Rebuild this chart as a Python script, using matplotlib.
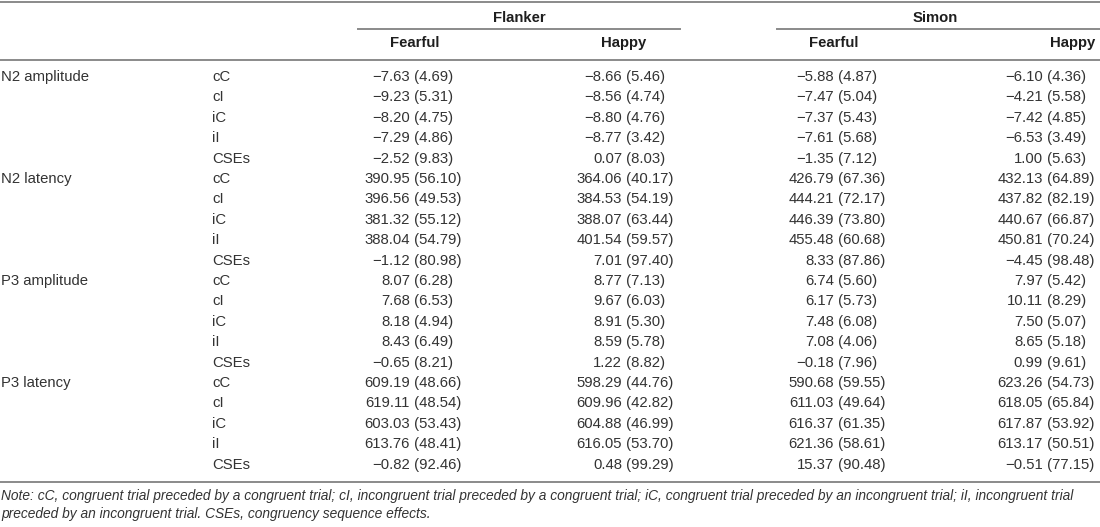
import matplotlib
matplotlib.use("Agg")
from matplotlib import pyplot as plt

# table contents
measures = ["N2 amplitude", "N2 latency", "P3 amplitude", "P3 latency"]
conditions = ["cC", "cI", "iC", "iI", "CSEs"]
tasks = ["Flanker", "Simon"]
emotions = ["Fearful", "Happy"]

flanker_fearful_mean = [-7.63, -9.23, -8.20, -7.29, -2.52,
                        390.95, 396.56, 381.32, 388.04, -1.12,
                        8.07, 7.68, 8.18, 8.43, -0.65,
                        609.19, 619.11, 603.03, 613.76, -0.82]
flanker_fearful_sd = [4.69, 5.31, 4.75, 4.86, 9.83,
                      56.10, 49.53, 55.12, 54.79, 80.98,
                      6.28, 6.53, 4.94, 6.49, 8.21,
                      48.66, 48.54, 53.43, 48.41, 92.46]
flanker_happy_mean = [-8.66, -8.56, -8.80, -8.77, 0.07,
                      364.06, 384.53, 388.07, 401.54, 7.01,
                      8.77, 9.67, 8.91, 8.59, 1.22,
                      598.29, 609.96, 604.88, 616.05, 0.48]
flanker_happy_sd = [5.46, 4.74, 4.76, 3.42, 8.03,
                    40.17, 54.19, 63.44, 59.57, 97.40,
                    7.13, 6.03, 5.30, 5.78, 8.82,
                    44.76, 42.82, 46.99, 53.70, 99.29]
simon_fearful_mean = [-5.88, -7.47, -7.37, -7.61, -1.35,
                      426.79, 444.21, 446.39, 455.48, 8.33,
                      6.74, 6.17, 7.48, 7.08, -0.18,
                      590.68, 611.03, 616.37, 621.36, 15.37]
simon_fearful_sd = [4.87, 5.04, 5.43, 5.68, 7.12,
                    67.36, 72.17, 73.80, 60.68, 87.86,
                    5.60, 5.73, 6.08, 4.06, 7.96,
                    59.55, 49.64, 61.35, 58.61, 90.48]
simon_happy_mean = [-6.10, -4.21, -7.42, -6.53, 1.00,
                    432.13, 437.82, 440.67, 450.81, -4.45,
                    7.97, 10.11, 7.50, 8.65, 0.99,
                    623.26, 618.05, 617.87, 613.17, -0.51]
simon_happy_sd = [4.36, 5.58, 4.85, 3.49, 5.63,
                  64.89, 82.19, 66.87, 70.24, 98.48,
                  5.42, 8.29, 5.07, 5.18, 9.61,
                  54.73, 65.84, 53.92, 50.51, 77.15]

note_1 = ("Note: cC, congruent trial preceded by a congruent trial; cI, incongruent trial "
          "preceded by a congruent trial; iC, congruent trial preceded by an incongruent trial; "
          "iI, incongruent trial")
note_2 = "preceded by an incongruent trial. CSEs, congruency sequence effects."

columns = [(flanker_fearful_mean, flanker_fearful_sd),
           (flanker_happy_mean, flanker_happy_sd),
           (simon_fearful_mean, simon_fearful_sd),
           (simon_happy_mean, simon_happy_sd)]

plt.rcParams['font.family'] = ['Liberation Sans', 'DejaVu Sans']

fig = plt.figure(figsize=(11, 5.27), dpi=100)
ax = fig.add_axes([0, 0, 1, 1])
ax.set_xlim(0, 1100)
ax.set_ylim(527, 0)
ax.axis("off")

txt = "#333333"
head = "#1e1e1e"
rule = "#8a8a8a"
fs = 10.7

# rules
ax.plot([0, 1100], [1.5, 1.5], color=rule, lw=1.4)
ax.plot([358, 680], [29, 29], color=rule, lw=1.4)
ax.plot([777, 1100], [29, 29], color=rule, lw=1.4)
ax.plot([0, 1100], [60, 60], color=rule, lw=1.4)
ax.plot([0, 1100], [482, 482], color=rule, lw=1.4)

# headers
task_x = [519, 935]
emo_x = [415, 624, 834, 1073]
for i, t in enumerate(tasks):
    ax.text(task_x[i], 18, t, ha="center", va="center", fontsize=fs,
            fontweight="bold", color=head)
for i in range(4):
    ax.text(emo_x[i], 43, emotions[i % 2], ha="center", va="center",
            fontsize=fs, fontweight="bold", color=head)

# body
row0 = 76
step = 20.4
anchors = [410, 622, 834, 1043]


def fmt(v):
    return f"{v:.2f}".replace("-", "\u2212")


for r in range(len(measures) * len(conditions)):
    y = row0 + r * step + 5
    if r % 5 == 0:
        ax.text(1, y, measures[r // 5], ha="left", va="baseline",
                fontsize=fs, color=txt)
    ax.text(212, y, conditions[r % 5], ha="left", va="baseline",
            fontsize=fs, color=txt)
    for c, (means, sds) in enumerate(columns):
        ax.text(anchors[c], y, fmt(means[r]), ha="right", va="baseline",
                fontsize=fs, color=txt)
        ax.text(anchors[c], y, " (" + fmt(sds[r]) + ")", ha="left",
                va="baseline", fontsize=fs, color=txt)

ax.text(1, 496, note_1, ha="left", va="center", fontsize=9.95,
        style="italic", color=txt)
ax.text(1, 514, note_2, ha="left", va="center", fontsize=9.95,
        style="italic", color=txt)

fig.savefig("out.png", dpi=100)
